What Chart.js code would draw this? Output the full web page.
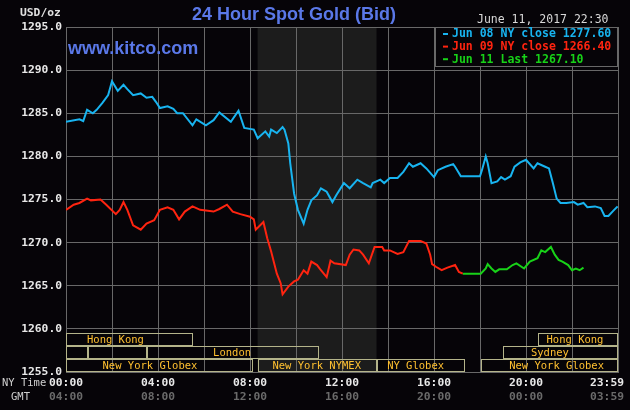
<!DOCTYPE html>
<html>
<head>
<meta charset="utf-8">
<script src="https://cdn.jsdelivr.net/npm/chart.js@4/dist/chart.umd.min.js"></script>
<style>
  html, body { margin: 0; padding: 0; background: #060408; }
  #wrap { width: 630px; height: 410px; }
</style>
</head>
<body>
<div id="wrap"><canvas id="chart" width="630" height="410"></canvas></div>
<script>
// times are minutes after NY midnight
const jun08Times = [0,35,45,55,70,80,95,110,120,135,150,160,175,195,210,225,235,245,265,280,
  290,305,330,340,365,385,400,430,450,465,490,500,520,530,535,550,565,570,580,585,
  595,605,620,630,640,655,665,680,695,705,725,740,760,775,795,800,820,830,845,865,
  880,895,905,925,940,960,970,990,1010,1015,1030,1080,1085,1095,1100,1110,1125,1135,1145,1160,
  1170,1185,1200,1220,1230,1250,1260,1270,1280,1290,1305,1325,1335,1350,1360,1380,1395,1405,1415,1430,1439];
const jun08Values = [1284.0,1284.3,1284.1,1285.4,1285.0,1285.4,1286.2,1287.1,1288.7,1287.6,
  1288.3,1287.8,1287.1,1287.3,1286.8,1286.9,1286.3,1285.6,1285.8,1285.5,
  1285.0,1285.0,1283.6,1284.3,1283.6,1284.2,1285.1,1284.0,1285.3,1283.3,
  1283.1,1282.1,1282.9,1282.3,1283.1,1282.7,1283.4,1283.1,1281.5,1279.2,
  1275.7,1273.8,1272.2,1273.8,1274.9,1275.5,1276.3,1275.9,1274.7,1275.5,
  1276.9,1276.3,1277.3,1276.9,1276.4,1276.9,1277.3,1276.9,1277.5,1277.5,
  1278.2,1279.2,1278.8,1279.2,1278.6,1277.6,1278.4,1278.8,1279.1,1278.8,
  1277.7,1277.7,1278.4,1280.0,1279.2,1276.9,1277.1,1277.6,1277.3,1277.7,
  1278.8,1279.3,1279.6,1278.6,1279.2,1278.8,1278.6,1276.9,1275.1,1274.6,
  1274.6,1274.7,1274.4,1274.6,1274.1,1274.2,1274.0,1273.1,1273.1,1273.8,1274.2];

const jun09Times = [0,20,35,55,65,90,105,130,140,150,160,175,195,210,230,245,265,280,295,310,
  330,350,385,400,420,435,455,480,490,495,515,525,535,550,560,565,580,595,605,620,
  630,640,655,665,680,690,700,730,740,750,765,775,790,805,825,830,845,865,880,895,
  925,940,950,955,965,980,995,1015,1025,1035];
const jun09Values = [1273.8,1274.4,1274.6,1275.1,1274.9,1275.0,1274.4,1273.3,1273.8,1274.7,
  1273.8,1272.0,1271.5,1272.2,1272.6,1273.8,1274.1,1273.8,1272.7,1273.6,
  1274.2,1273.8,1273.6,1273.9,1274.4,1273.6,1273.3,1273.0,1272.7,1271.5,
  1272.4,1270.5,1269.0,1266.4,1265.3,1264.0,1264.9,1265.5,1265.7,1266.8,
  1266.4,1267.8,1267.4,1266.8,1266.0,1267.9,1267.6,1267.4,1268.6,1269.2,
  1269.1,1268.6,1267.6,1269.5,1269.5,1269.1,1269.1,1268.7,1268.9,1270.2,
  1270.2,1269.9,1268.6,1267.5,1267.2,1266.8,1267.1,1267.4,1266.6,1266.4];

const jun11Times = [1035,1082,1095,1100,1110,1120,1130,1150,1165,1175,1195,1210,1230,1240,1250,1265,
  1275,1285,1295,1310,1320,1330,1340,1350];
const jun11Values = [1266.4,1266.4,1267.0,1267.5,1267.0,1266.6,1266.9,1266.9,1267.4,1267.6,1267.0,1267.8,
  1268.2,1269.1,1268.9,1269.5,1268.6,1268.0,1267.8,1267.4,1266.8,1267.0,1266.8,1267.1];

const seriesLabels = ['Jun 08 NY close 1277.60', 'Jun 09 NY close 1266.40', 'Jun 11 Last 1267.10'];
const seriesColors = ['#18b4f0', '#ff2410', '#18d218'];

const tickHours = [0, 4, 8, 12, 16, 20, 24];
const nyTickLabels = ['00:00', '04:00', '08:00', '12:00', '16:00', '20:00', '23:59'];
const gmtTickLabels = ['04:00', '08:00', '12:00', '16:00', '20:00', '00:00', '03:59'];

// trading sessions (hours, NY time)
const sessionNames = ['Hong Kong', '', '', 'London', 'New York Globex', 'New York NYMEX', 'NY Globex',
  'New York Globex', 'Sydney', 'Hong Kong'];
const sessionStart = [0, 0, 0.95, 3.5, 0, 8.33, 13.5, 18.05, 19, 20.5];
const sessionEnd = [5.5, 0.95, 3.5, 11, 8.15, 13.5, 17.35, 24, 24, 24];
const sessionRow = [0, 1, 1, 1, 2, 2, 2, 2, 1, 0];
const sessionLabelAt = [2.15, 0, 0, 7.22, 3.65, 10.9, 15.2, 21.33, 21.04, 22.13];
const nymexShade = [8.33, 13.5];

function toPoints(times, values) {
  return times.map((t, i) => ({ x: t / 60, y: values[i] }));
}

const MONO = '"DejaVu Sans Mono", "Liberation Mono", monospace';
const SANS = '"Liberation Sans", Arial, sans-serif';
const GRID = '#686868';

const kitcoDecor = {
  id: 'kitcoDecor',
  beforeDraw(chart) {
    const { ctx, chartArea: a, scales: { x } } = chart;
    ctx.save();
    ctx.fillStyle = '#060408';
    ctx.fillRect(0, 0, chart.width, chart.height);
    const s0 = x.getPixelForValue(nymexShade[0]);
    const s1 = x.getPixelForValue(nymexShade[1]);
    ctx.fillStyle = '#1c1c1c';
    ctx.fillRect(s0, a.top, s1 - s0, a.bottom - a.top);
    ctx.restore();
  },
  beforeDatasetsDraw(chart) {
    const { ctx, scales: { x, y } } = chart;
    ctx.save();
    ctx.strokeStyle = '#b4b48a';
    ctx.lineWidth = 1;
    ctx.font = '10.5px ' + MONO;
    ctx.textAlign = 'center';
    ctx.textBaseline = 'middle';
    sessionNames.forEach((name, i) => {
      const top = Math.round(y.getPixelForValue(1259.5 - sessionRow[i] * 1.5)) + 0.5;
      const bot = Math.round(y.getPixelForValue(1258.1 - sessionRow[i] * 1.5)) + 0.5;
      const l = Math.round(x.getPixelForValue(sessionStart[i])) + 0.5;
      const r = Math.round(x.getPixelForValue(sessionEnd[i])) - 0.5;
      ctx.strokeRect(l, top, r - l, bot - top);
      if (name) {
        ctx.fillStyle = '#ffc030';
        ctx.fillText(name, x.getPixelForValue(sessionLabelAt[i]), (top + bot) / 2 + 0.5);
      }
    });
    ctx.restore();
  },
  afterDraw(chart) {
    const { ctx, chartArea: a, scales: { x } } = chart;
    ctx.save();
    ctx.textBaseline = 'middle';

    // header texts
    ctx.fillStyle = '#5a78e8';
    ctx.font = 'bold 18px ' + SANS;
    ctx.textAlign = 'center';
    ctx.fillText('24 Hour Spot Gold (Bid)', 294, 15);
    ctx.textAlign = 'left';
    ctx.fillText('www.kitco.com', 68, 49);

    ctx.fillStyle = '#e0e0e0';
    ctx.font = 'bold 11.3px ' + MONO;
    ctx.fillText('USD/oz', 20, 13);
    ctx.font = '11.5px ' + MONO;
    ctx.fillStyle = '#d8d8d8';
    ctx.fillText('June 11, 2017 22:30', 477, 20);

    // legend box
    const lx = 435, ly = a.top, lw = a.right - lx, lh = 39;
    ctx.fillStyle = '#060408';
    ctx.fillRect(lx, ly, lw, lh);
    ctx.strokeStyle = GRID;
    ctx.strokeRect(lx + 0.5, ly + 0.5, lw - 1, lh);
    ctx.font = 'bold 11.5px ' + MONO;
    chart.data.datasets.forEach((ds, i) => {
      const ty = ly + 7 + i * 12.6;
      ctx.fillStyle = ds.borderColor;
      ctx.fillRect(443, ty - 1, 5, 2);
      ctx.fillText(ds.label, 452, ty + 0.5);
    });

    // time axis labels
    ctx.font = 'bold 11.3px ' + MONO;
    ctx.textAlign = 'center';
    tickHours.forEach((h, i) => {
      let px = x.getPixelForValue(h);
      const w = ctx.measureText(nyTickLabels[i]).width;
      px = Math.min(px, chart.width - 6 - w / 2);
      ctx.fillStyle = '#e8e8e8';
      ctx.fillText(nyTickLabels[i], px, 383);
      ctx.fillStyle = '#6a6a6a';
      ctx.fillText(gmtTickLabels[i], px, 397);
    });
    ctx.textAlign = 'left';
    ctx.font = '10.5px ' + MONO;
    ctx.fillStyle = '#d0d0d0';
    ctx.fillText('NY Time', 2, 383);
    ctx.fillText('GMT', 11, 397);
    ctx.restore();
  }
};

new Chart(document.getElementById('chart'), {
  type: 'line',
  data: {
    datasets: [
      { label: seriesLabels[0], data: toPoints(jun08Times, jun08Values), borderColor: seriesColors[0] },
      { label: seriesLabels[1], data: toPoints(jun09Times, jun09Values), borderColor: seriesColors[1] },
      { label: seriesLabels[2], data: toPoints(jun11Times, jun11Values), borderColor: seriesColors[2] }
    ]
  },
  options: {
    responsive: false,
    animation: false,
    layout: { padding: { top: 27, right: 12, bottom: 38, left: 0 } },
    elements: {
      line: { borderWidth: 2, tension: 0 },
      point: { radius: 0 }
    },
    scales: {
      x: {
        type: 'linear',
        min: 0,
        max: 24,
        ticks: { stepSize: 2, display: false },
        grid: { color: GRID, drawTicks: false },
        border: { color: GRID },
        afterFit: (s) => { s.height = 0; }
      },
      y: {
        min: 1255,
        max: 1295,
        ticks: {
          stepSize: 5,
          padding: 4,
          color: '#e8e8e8',
          font: { family: MONO, size: 11.3, weight: 'bold' },
          callback: (v) => v.toFixed(1)
        },
        grid: { color: GRID, drawTicks: false },
        border: { color: GRID },
        afterFit: (s) => { s.width = 66; }
      }
    },
    plugins: {
      legend: { display: false },
      tooltip: { enabled: false }
    }
  },
  plugins: [kitcoDecor]
});
</script>
</body>
</html>
